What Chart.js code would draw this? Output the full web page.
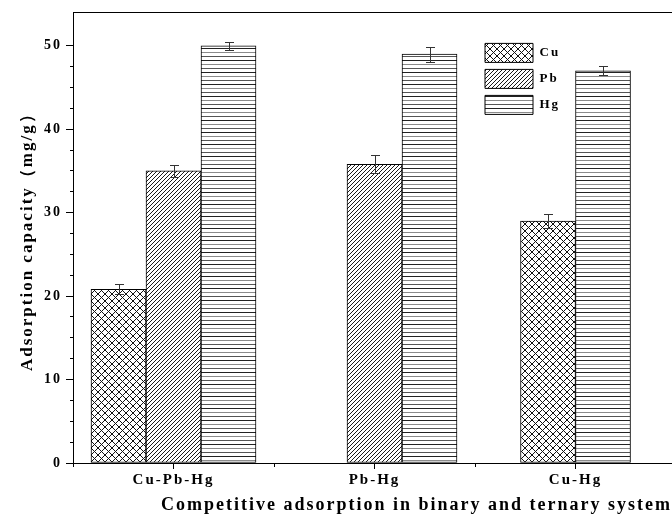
<!DOCTYPE html>
<html>
<head>
<meta charset="utf-8">
<script src="https://cdn.jsdelivr.net/npm/chart.js@4.4.1/dist/chart.umd.min.js"></script>
<style>
  html, body { margin: 0; padding: 0; background: #fff; overflow: hidden; }
</style>
</head>
<body>
<canvas id="myChart" width="672" height="517"></canvas>
<script>
const categories = ["Cu-Pb-Hg", "Pb-Hg", "Cu-Hg"];
const seriesNames = ["Cu", "Pb", "Hg"];
const cuValues = [20.8, 0, 29.0];
const pbValues = [35.0, 35.8, null];
const hgValues = [50.0, 49.0, 47.0];
const cuErrors = [0.6, 0, 0.8];
const pbErrors = [0.7, 1.1, null];
const hgErrors = [0.5, 0.9, 0.55];
const yLabelStep = 10;
const yMinorStep = 2.5;

const serif = "'Liberation Serif', 'Times New Roman', serif";

// category centres sit at half steps on a linear axis
const positions = categories.map((c, i) => i + 0.5);

function makePattern(w, h, draw) {
  const c = document.createElement("canvas");
  c.width = w;
  c.height = h;
  const g = c.getContext("2d");
  g.fillStyle = "#fff";
  g.fillRect(0, 0, w, h);
  draw(g, w, h);
  return g.createPattern(c, "repeat");
}

const crossHatch = makePattern(7, 7, (g, w, h) => {
  g.strokeStyle = "#111";
  g.lineWidth = 1;
  g.beginPath();
  for (const k of [-w, 0, w]) {
    g.moveTo(k, 0); g.lineTo(k + w, h);
    g.moveTo(k + w, 0); g.lineTo(k, h);
  }
  g.stroke();
});

const diagHatch = makePattern(4, 4, (g, w, h) => {
  g.strokeStyle = "#1a1a1a";
  g.lineWidth = 1;
  g.beginPath();
  for (const k of [-w, 0, w]) {
    g.moveTo(k, h); g.lineTo(k + w, 0);
  }
  g.stroke();
});

const horizHatch = makePattern(4, 12, (g, w) => {
  [["#222", 0.5], ["#8a8a8a", 4.5], ["#555", 8.5]].forEach(([col, y]) => {
    g.strokeStyle = col;
    g.lineWidth = 1;
    g.beginPath();
    g.moveTo(0, y); g.lineTo(w, y);
    g.stroke();
  });
});

const errorBars = {
  id: "errorBars",
  afterDatasetsDraw(chart) {
    const { ctx } = chart;
    const y = chart.scales.y;
    ctx.save();
    ctx.strokeStyle = "#333";
    ctx.lineWidth = 1;
    chart.data.datasets.forEach((ds, i) => {
      chart.getDatasetMeta(i).data.forEach((bar, j) => {
        const v = ds.data[j], e = ds.errors[j];
        if (v == null || !e) return;
        const x = Math.round(bar.x) + 0.5;
        const top = Math.round(y.getPixelForValue(v + e)) + 0.5;
        const bot = Math.round(y.getPixelForValue(v - e)) + 0.5;
        ctx.beginPath();
        ctx.moveTo(x, top); ctx.lineTo(x, bot);
        ctx.moveTo(x - 4.5, top); ctx.lineTo(x + 4.5, top);
        ctx.moveTo(x - 4.5, bot); ctx.lineTo(x + 4.5, bot);
        ctx.stroke();
      });
    });
    ctx.restore();
  }
};

// legend lives inside the plot, near the top right
const legendInside = {
  id: "legendInside",
  afterLayout(chart) {
    const lg = chart.legend, area = chart.chartArea;
    lg.left = area.left + 405;
    lg.right = area.right;
    lg.top = area.top + 24;
    lg.bottom = area.bottom;
  }
};

const spacing = {
  id: "spacing",
  beforeUpdate(chart) { chart.ctx.letterSpacing = "2px"; },
  beforeDraw(chart) { chart.ctx.letterSpacing = "2px"; }
};

const isMinorX = (ctx) => ctx.tick && Number.isInteger(ctx.tick.value);
const isMinorY = (ctx) => ctx.tick && ctx.tick.value % yLabelStep !== 0;

// an empty slot (value 0) keeps its place in the group but draws nothing
const hatchFill = (pattern) => (c) => (c.raw === 0 ? "rgba(0,0,0,0)" : pattern);

const barStyle = {
  borderColor: "#000",
  borderWidth: (c) => (c.raw === 0 ? 0 : 1),
  borderSkipped: false,
  barThickness: 55,
  skipNull: true
};

const context = document.getElementById("myChart").getContext("2d");
const config = {
  type: "bar",
  data: {
    labels: positions,
    datasets: [
      { label: seriesNames[0], data: cuValues, errors: cuErrors, backgroundColor: hatchFill(crossHatch), ...barStyle },
      { label: seriesNames[1], data: pbValues, errors: pbErrors, backgroundColor: hatchFill(diagHatch), ...barStyle },
      { label: seriesNames[2], data: hgValues, errors: hgErrors, backgroundColor: hatchFill(horizHatch), ...barStyle }
    ]
  },
  options: {
    responsive: false,
    devicePixelRatio: 1,
    animation: false,
    layout: { padding: { top: 11, left: 0, right: 0, bottom: 0 } },
    plugins: {
      title: { display: false },
      tooltip: { enabled: false },
      legend: {
        position: "chartArea",
        align: "start",
        labels: {
          boxWidth: 48,
          boxHeight: 19,
          padding: 7,
          color: "#000",
          font: { family: serif, size: 13, weight: "bold" }
        }
      }
    },
    scales: {
      x: {
        type: "linear",
        position: "bottom",
        offset: false,
        min: 0,
        max: 2.98,
        afterBuildTicks: (scale) => {
          const vals = [0];
          positions.forEach((p) => vals.push(p, p + 0.5));
          scale.ticks = vals.filter((v) => v < 2.9).map((v) => ({ value: v }));
        },
        afterFit: (scale) => { scale.height = 54; },
        grid: {
          offset: false,
          drawOnChartArea: false,
          tickLength: 6,
          tickColor: "#000",
          tickBorderDash: (c) => (isMinorX(c) ? [3, 10] : [])
        },
        border: { color: "#000", width: 1 },
        ticks: {
          autoSkip: false,
          maxRotation: 0,
          padding: 2,
          color: "#000",
          font: { family: serif, size: 15, weight: "bold" },
          callback: (value) => (Number.isInteger(value) ? "" : categories[Math.floor(value)])
        },
        title: {
          display: true,
          align: "end",
          text: "Competitive adsorption in binary and ternary system",
          color: "#000",
          font: { family: serif, size: 18, weight: "bold" },
          padding: { top: 0, bottom: 1 }
        }
      },
      xTop: {
        type: "linear",
        position: "top",
        offset: false,
        min: 0,
        max: 2.98,
        afterFit: (scale) => { scale.height = 0; },
        grid: { display: false, drawTicks: false },
        border: { display: true, color: "#000", width: 1 },
        ticks: { display: false }
      },
      y: {
        min: 0,
        max: 54,
        afterBuildTicks: (scale) => {
          scale.ticks = scale.ticks.filter((t) => t.value % yMinorStep === 0);
        },
        afterFit: (scale) => { scale.width = 73; },
        grid: {
          drawOnChartArea: false,
          tickLength: 7,
          tickColor: "#000",
          tickBorderDash: (c) => (isMinorY(c) ? [0, 4, 3, 10] : [])
        },
        border: { color: "#000", width: 1 },
        ticks: {
          stepSize: yMinorStep,
          autoSkip: false,
          padding: 4,
          color: "#000",
          font: { family: serif, size: 14, weight: "bold" },
          callback: (value) => (value % yLabelStep === 0 ? value : "")
        },
        title: {
          display: true,
          text: "Adsorption capacity（mg/g）",
          color: "#000",
          font: { family: serif, size: 17, weight: "bold" },
          padding: { top: 17, bottom: 0 }
        }
      }
    }
  },
  plugins: [spacing, legendInside, errorBars]
};

const myChart = new Chart(context, config);
</script>
</body>
</html>
